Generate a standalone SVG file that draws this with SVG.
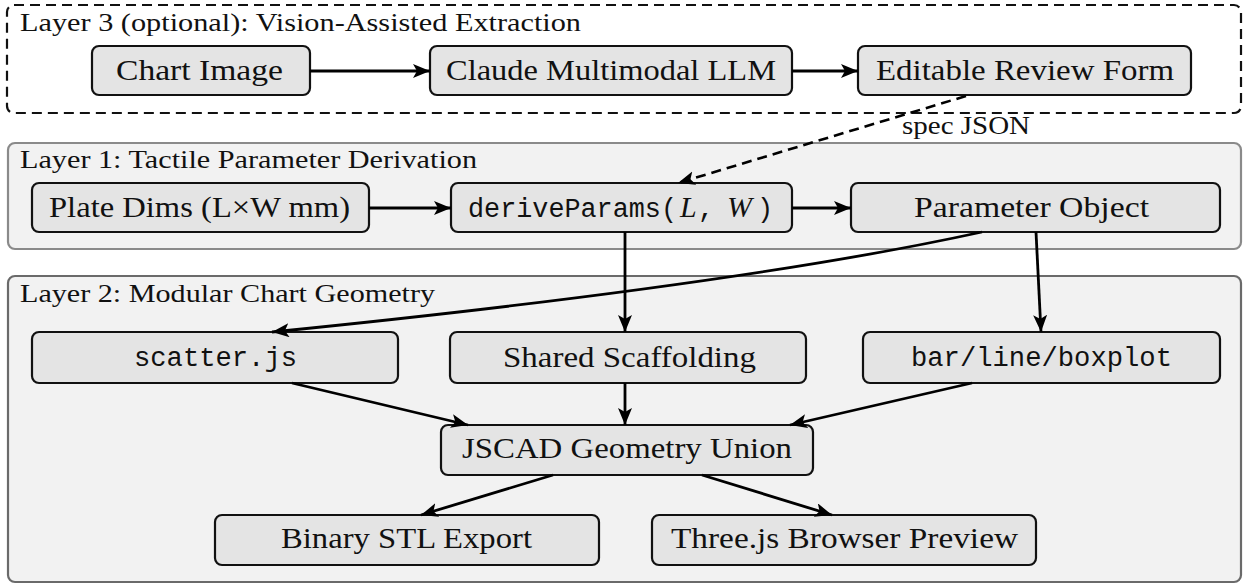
<svg xmlns="http://www.w3.org/2000/svg" width="1247" height="585" viewBox="0 0 1247 585">
  <defs>
    <marker id="ah" markerUnits="userSpaceOnUse" markerWidth="19" markerHeight="15" refX="17" refY="7" orient="auto">
      <path d="M0,0 L17,7 L0,14 L4,7 z" fill="#000"/>
    </marker>
    <style>
      .layer { fill: #f2f2f2; stroke-width: 2.2; }
      .node rect { fill: #e4e4e4; stroke: #111; stroke-width: 2.2; }
      .serif { font-family: "Liberation Serif", "DejaVu Serif", serif; fill: #111; }
      .mono { font-family: "Liberation Mono", "DejaVu Sans Mono", monospace; fill: #111; }
      .title { font-size: 26px; }
      .lbl { font-size: 30px; }
      .mlbl { font-size: 27px; }
      .conn path { fill: none; stroke: #000; stroke-width: 2.8; marker-end: url(#ah); }
      .conn path.dash { stroke-dasharray: 10 6; stroke-width: 2.6; }
    </style>
  </defs>
  <rect width="1247" height="585" fill="#ffffff"/>

  <!-- Layers -->
  <g id="layer3">
    <rect x="7" y="5" width="1234" height="108" rx="7" fill="#ffffff" stroke="#111" stroke-width="2.2" stroke-dasharray="10 6"/>
    <text class="serif title" x="20" y="31" textLength="561" lengthAdjust="spacingAndGlyphs">Layer 3 (optional): Vision-Assisted Extraction</text>
  </g>
  <g id="layer1">
    <rect class="layer" x="8" y="143" width="1233" height="106" rx="7" stroke="#8a8a8a"/>
    <text class="serif title" x="20" y="168" textLength="457" lengthAdjust="spacingAndGlyphs">Layer 1: Tactile Parameter Derivation</text>
  </g>
  <g id="layer2">
    <rect class="layer" x="8" y="276" width="1233" height="306" rx="7" stroke="#6a6a6a"/>
    <text class="serif title" x="20" y="302" textLength="415" lengthAdjust="spacingAndGlyphs">Layer 2: Modular Chart Geometry</text>
  </g>

  <!-- Nodes -->
  <g id="chart-image" class="node">
    <rect x="92" y="46" width="218" height="49" rx="7"/>
    <text class="serif lbl" x="116" y="80" textLength="167" lengthAdjust="spacingAndGlyphs">Chart Image</text>
  </g>
  <g id="claude-llm" class="node">
    <rect x="430" y="46" width="362" height="49" rx="7"/>
    <text class="serif lbl" x="446" y="80" textLength="330" lengthAdjust="spacingAndGlyphs">Claude Multimodal LLM</text>
  </g>
  <g id="review-form" class="node">
    <rect x="858" y="46" width="333" height="49" rx="7"/>
    <text class="serif lbl" x="876" y="80" textLength="298" lengthAdjust="spacingAndGlyphs">Editable Review Form</text>
  </g>

  <g id="plate-dims" class="node">
    <rect x="32" y="183" width="337" height="49" rx="7"/>
    <text class="serif lbl" x="49" y="217" textLength="301" lengthAdjust="spacingAndGlyphs">Plate Dims (L×W mm)</text>
  </g>
  <g id="derive-params" class="node">
    <rect x="451" y="183" width="341" height="49" rx="7"/>
    <text y="217"><tspan class="mono mlbl" x="468" textLength="209" lengthAdjust="spacingAndGlyphs">deriveParams(</tspan><tspan class="serif lbl" x="680" font-style="italic">L</tspan><tspan class="mono mlbl" x="698">,</tspan><tspan class="serif lbl" x="727" font-style="italic">W</tspan><tspan class="mono mlbl" x="757">)</tspan></text>
  </g>
  <g id="parameter-object" class="node">
    <rect x="851" y="183" width="369" height="49" rx="7"/>
    <text class="serif lbl" x="914" y="217" textLength="235" lengthAdjust="spacingAndGlyphs">Parameter Object</text>
  </g>

  <g id="scatter" class="node">
    <rect x="32" y="332" width="366" height="51" rx="7"/>
    <text class="mono mlbl" x="134" y="366" textLength="163" lengthAdjust="spacingAndGlyphs">scatter.js</text>
  </g>
  <g id="shared-scaffolding" class="node">
    <rect x="450" y="332" width="356" height="51" rx="7"/>
    <text class="serif lbl" x="503" y="367" textLength="253" lengthAdjust="spacingAndGlyphs">Shared Scaffolding</text>
  </g>
  <g id="bar-line-boxplot" class="node">
    <rect x="863" y="332" width="357" height="51" rx="7"/>
    <text class="mono mlbl" x="911" y="366" textLength="261" lengthAdjust="spacingAndGlyphs">bar/line/boxplot</text>
  </g>
  <g id="jscad-union" class="node">
    <rect x="441" y="425" width="372" height="50" rx="7"/>
    <text class="serif lbl" x="462" y="458" textLength="330" lengthAdjust="spacingAndGlyphs">JSCAD Geometry Union</text>
  </g>
  <g id="binary-stl" class="node">
    <rect x="215" y="515" width="384" height="50" rx="7"/>
    <text class="serif lbl" x="281" y="548" textLength="251" lengthAdjust="spacingAndGlyphs">Binary STL Export</text>
  </g>
  <g id="threejs-preview" class="node">
    <rect x="652" y="515" width="384" height="50" rx="7"/>
    <text class="serif lbl" x="671" y="548" textLength="347" lengthAdjust="spacingAndGlyphs">Three.js Browser Preview</text>
  </g>

  <!-- Connectors -->
  <g id="connectors" class="conn">
    <path d="M310,71 L430,71"/>
    <path d="M792,71 L858,71"/>
    <path class="dash" d="M966,96 L678,183"/>
    <path d="M369,208 L451,208"/>
    <path d="M792,208 L851,208"/>
    <path d="M625,232 L625,332"/>
    <path d="M982,232 Q740,285 272,332"/>
    <path d="M1036,232 L1041,332"/>
    <path d="M292,383 L468,425"/>
    <path d="M625,383 L625,425"/>
    <path d="M972,383 L790,425"/>
    <path d="M553,475 L421,515"/>
    <path d="M702,475 L832,515"/>
  </g>
  <text class="serif" font-size="25" x="902" y="134" textLength="128" lengthAdjust="spacingAndGlyphs">spec JSON</text>
</svg>
